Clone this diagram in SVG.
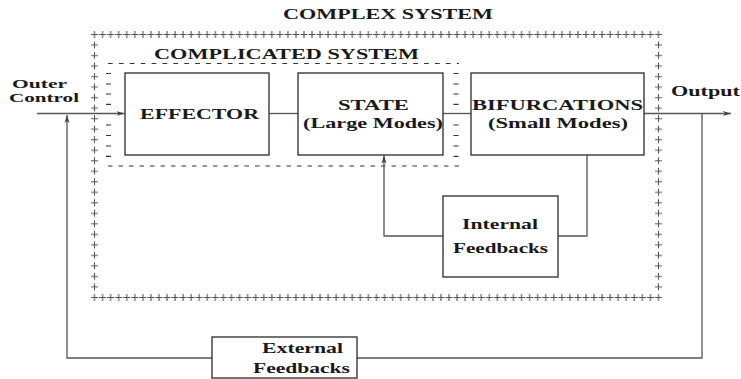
<svg xmlns="http://www.w3.org/2000/svg" width="741" height="379" viewBox="0 0 741 379">
<style>
text{font-family:"Liberation Serif","Times New Roman",serif;font-weight:bold;fill:#1a1a1a;font-size:15px}
.sm{font-size:12.5px}
.box{fill:#fff;stroke:#2a2a2a;stroke-width:1.3}
.con{fill:none;stroke:#555;stroke-width:1.3}
.dash{fill:none;stroke:#333;stroke-width:1.2}
.pl{fill:none;stroke:#555;stroke-width:1.1}
</style>
<defs>
<marker id="arr" markerUnits="userSpaceOnUse" markerWidth="9" markerHeight="7" refX="8" refY="3.5" orient="auto">
<path d="M0,1 L8,3.5 L0,6 L2,3.5 z" fill="#444"/>
</marker>
<pattern id="plus-h" patternUnits="userSpaceOnUse" x="90" y="30" width="8.057" height="8">
<path class="pl" d="M1,4.5h7M4.5,1v7"/>
</pattern>
<pattern id="plus-v" patternUnits="userSpaceOnUse" x="90" y="30" width="8" height="10.52">
<path class="pl" d="M1,4.5h7M4.5,1v7"/>
</pattern>
</defs>
<rect width="741" height="379" fill="#fff"/>

<g id="complex-system">
<text x="283" y="19" textLength="210" lengthAdjust="spacingAndGlyphs">COMPLEX SYSTEM</text>
<rect x="90" y="30" width="572" height="8" fill="url(#plus-h)"/>
<rect x="90" y="30" width="572" height="8" fill="url(#plus-h)" transform="translate(0,263)"/>
<rect x="90" y="40.52" width="8" height="252.48" fill="url(#plus-v)"/>
<rect x="90" y="40.52" width="8" height="252.48" fill="url(#plus-v)" transform="translate(564,0)"/>
</g>

<g id="complicated-system">
<text x="154" y="59" textLength="265" lengthAdjust="spacingAndGlyphs">COMPLICATED SYSTEM</text>
<line class="dash" x1="108" y1="63.5" x2="459" y2="63.5" stroke-dasharray="4.7 6.2"/>
<line class="dash" x1="108" y1="166" x2="459" y2="166" stroke="#888" stroke-dasharray="4.5 6"/>
<path class="dash" stroke="#777" d="M106,84h5M106,94h5M106,104.3h5M106,125h5M106,135.5h5M106,146h5M106,156.3h5M453.5,84h5M453.5,94h5M453.5,104.3h5M453.5,125h5M453.5,135.5h5M453.5,146h5M453.5,156.3h5"/>
<path class="dash" stroke="#111" stroke-width="1.5" d="M106,73.5h5M453.5,73.5h5"/>
</g>

<g id="connectors">
<line class="con" x1="37" y1="113.5" x2="124.5" y2="113.5" marker-end="url(#arr)"/>
<line class="con" x1="269" y1="113.5" x2="298" y2="113.5"/>
<line class="con" x1="443" y1="113.5" x2="471" y2="113.5"/>
<line class="con" x1="644" y1="113.5" x2="731" y2="113.5" marker-end="url(#arr)"/>
<polyline class="con" points="702,113.5 702,358 357,358"/>
<polyline class="con" points="212,358 67,358 67,115" marker-end="url(#arr)"/>
<polyline class="con" points="587,155 587,236 558,236"/>
<polyline class="con" points="443,236 384,236 384,155.5" marker-end="url(#arr)"/>
</g>

<g id="outer-control">
<text class="sm" x="12" y="88" textLength="55" lengthAdjust="spacingAndGlyphs">Outer</text>
<text class="sm" x="9" y="101.5" textLength="70" lengthAdjust="spacingAndGlyphs">Control</text>
</g>

<g id="effector">
<rect class="box" x="125" y="73" width="144" height="82"/>
<text x="140" y="119" textLength="119" lengthAdjust="spacingAndGlyphs">EFFECTOR</text>
</g>

<g id="state">
<rect class="box" x="298" y="73" width="145" height="82"/>
<text x="338" y="110" textLength="71" lengthAdjust="spacingAndGlyphs">STATE</text>
<text x="303" y="128" textLength="140" lengthAdjust="spacingAndGlyphs">(Large Modes)</text>
</g>

<g id="bifurcations">
<rect class="box" x="471" y="73" width="173" height="82"/>
<text x="472" y="110" textLength="171" lengthAdjust="spacingAndGlyphs">BIFURCATIONS</text>
<text x="488" y="128" textLength="140" lengthAdjust="spacingAndGlyphs">(Small Modes)</text>
</g>

<g id="output">
<text x="671" y="96" textLength="69" lengthAdjust="spacingAndGlyphs">Output</text>
</g>

<g id="internal-feedbacks">
<rect class="box" x="443" y="196" width="115" height="81"/>
<text x="462" y="229" textLength="76" lengthAdjust="spacingAndGlyphs">Internal</text>
<text x="453" y="253" textLength="95" lengthAdjust="spacingAndGlyphs">Feedbacks</text>
</g>

<g id="external-feedbacks">
<rect class="box" x="212" y="337" width="145" height="41"/>
<text x="262" y="353" textLength="81" lengthAdjust="spacingAndGlyphs">External</text>
<text x="253" y="373" textLength="97" lengthAdjust="spacingAndGlyphs">Feedbacks</text>
</g>
</svg>
